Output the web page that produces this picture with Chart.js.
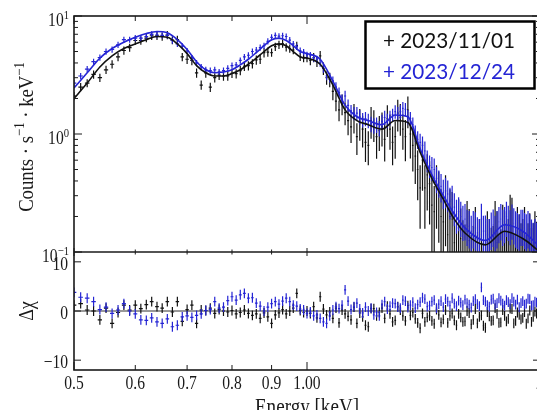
<!DOCTYPE html>
<html>
<head>
<meta charset="utf-8">
<script src="https://cdn.jsdelivr.net/npm/chart.js@4.4.1/dist/chart.umd.min.js"></script>
<style>
  html, body { margin: 0; padding: 0; background: #fff; overflow: hidden; }
  #wrap { width: 545px; height: 410px; }
</style>
</head>
<body>
<div id="wrap"><canvas id="spec" width="545" height="410"></canvas></div>
<script>
// energy bins [keV], shared by both observations
const energy = [
  0.50,0.51,0.52,0.53,0.54,0.55,0.56,0.57,0.58,0.59,
  0.60,0.61,0.62,0.63,0.64,0.65,0.66,0.67,0.68,0.69,
  0.70,0.71,0.72,0.73,0.74,0.75,0.76,0.77,0.78,0.79,
  0.80,0.81,0.82,0.83,0.84,0.85,0.86,0.87,0.88,0.89,
  0.90,0.91,0.92,0.93,0.94,0.95,0.96,0.97,0.98,0.99,
  1.00,1.01,1.02,1.03,1.04,1.05,1.06,1.07,1.08,1.09,
  1.10,1.11,1.12,1.13,1.14,1.15,1.16,1.17,1.18,1.19,
  1.20,1.21,1.22,1.23,1.24,1.25,1.26,1.27,1.28,1.29,
  1.30,1.31,1.32,1.33,1.34,1.35,1.36,1.37,1.38,1.39,
  1.40,1.41,1.42,1.43,1.44,1.45,1.46,1.47,1.48,1.49,
  1.50,1.51,1.52,1.53,1.54,1.55,1.56,1.57,1.58,1.59,
  1.60,1.61,1.62,1.63,1.64,1.65,1.66,1.67,1.68,1.69,
  1.70,1.71,1.72,1.73,1.74,1.75,1.76,1.77,1.78,1.79,
  1.80,1.81,1.82,1.83,1.84,1.85,1.86,1.87,1.88,1.89,
  1.90,1.91,1.92,1.93,1.94,1.95,1.96,1.97,1.98,1.99
];

// 2023/11/01 counts s^-1 keV^-1 and relative error
const countsNov = [
  2.1,2.5,2.7,3.2,3.0,3.5,3.9,4.5,5.1,5.4,
  6.2,6.2,6.5,6.8,6.8,6.7,6.9,6.25,6.3,4.5,
  4.3,4.2,3.3,2.6,3.3,2.5,3.0,3.15,3.1,3.1,
  3.27,3.25,3.45,3.75,3.8,3.95,4.25,4.3,4.9,4.95,
  4.9,5.5,5.7,5.85,5.45,5.3,5.15,5.6,4.52,4.4,
  4.4,4.2,4.45,4.1,4.6,3.6,3.0,2.9,2.3,1.9,
  1.6,1.8,1.52,1.3,1.15,1.4,0.95,1.25,1.1,0.85,
  0.8,1.3,1.22,0.95,1.07,1.15,0.9,1.35,1.1,0.85,
  0.95,1.5,1.38,1.1,0.95,1.6,1.0,0.8,0.65,0.5,
  0.35,0.6,0.35,0.45,0.38,0.25,0.22,0.35,0.3,0.2,
  0.18,0.28,0.14,0.2,0.19,0.12,0.09,0.16,0.13,0.1,
  0.09,0.15,0.125,0.07,0.085,0.13,0.07,0.1,0.1,0.06,
  0.05,0.12,0.1,0.08,0.085,0.15,0.12,0.07,0.08,0.14,
  0.12,0.09,0.1,0.17,0.16,0.07,0.08,0.13,0.11,0.09,
  0.1,0.13,0.07,0.09,0.115,0.08,0.09,0.12,0.095,0.07
];
const errNov = [
  0.08,0.08,0.08,0.08,0.08,0.08,0.08,0.08,0.08,0.08,
  0.08,0.08,0.08,0.08,0.08,0.08,0.08,0.08,0.08,0.08,
  0.09,0.09,0.09,0.09,0.09,0.09,0.09,0.09,0.09,0.09,
  0.09,0.09,0.09,0.09,0.09,0.09,0.09,0.09,0.09,0.09,
  0.08,0.08,0.08,0.08,0.08,0.08,0.08,0.08,0.08,0.08,
  0.08,0.09,0.09,0.1,0.1,0.12,0.13,0.14,0.16,0.18,
  0.2,0.2,0.22,0.25,0.27,0.28,0.3,0.3,0.3,0.32,
  0.32,0.3,0.3,0.35,0.33,0.32,0.35,0.3,0.33,0.36,
  0.35,0.3,0.3,0.33,0.38,0.3,0.38,0.4,0.42,0.45,
  0.55,0.45,0.55,0.5,0.55,0.65,0.65,0.55,0.6,0.7,
  0.7,0.6,0.75,0.7,0.7,0.8,0.9,0.75,0.8,0.85,
  0.9,0.8,0.85,1,0.95,0.85,1,0.9,0.9,1,
  1,0.85,0.9,1,0.95,0.8,0.85,1,0.95,0.8,
  0.85,0.95,0.9,0.8,0.8,1,0.95,0.85,0.9,0.95,
  0.9,0.85,1,0.95,0.85,1,0.95,0.85,0.9,1
];

// 2023/12/24
const countsDec = [
  2.7,3.1,3.55,4.1,4.45,5.0,5.2,5.7,6.3,6.3,
  6.5,6.5,6.7,7.0,6.9,6.85,6.85,6.2,5.8,5.55,
  5.05,4.4,4.0,3.7,3.5,3.45,3.5,3.35,3.45,3.6,
  3.8,3.85,4.2,4.5,4.65,5.0,5.15,5.4,5.6,6.1,
  6.6,6.85,6.75,6.8,6.7,6.25,5.8,5.5,5.1,4.95,
  4.7,4.65,4.4,4.3,4.0,3.6,3.1,3.0,2.82,2.5,
  2.25,1.95,2.1,1.75,1.57,1.5,1.5,1.4,1.32,1.35,
  1.3,1.22,1.18,1.2,1.12,1.28,1.38,1.3,1.38,1.45,
  1.55,1.5,1.55,1.65,1.62,1.4,1.35,1.2,1.02,0.9,
  0.85,0.8,0.72,0.6,0.54,0.52,0.5,0.42,0.39,0.36,
  0.32,0.33,0.31,0.27,0.28,0.24,0.21,0.22,0.2,0.185,
  0.19,0.17,0.165,0.15,0.165,0.16,0.145,0.14,0.19,0.15,
  0.15,0.14,0.14,0.16,0.17,0.15,0.165,0.18,0.19,0.17,
  0.18,0.2,0.185,0.17,0.19,0.175,0.165,0.16,0.155,0.17,
  0.17,0.16,0.155,0.165,0.155,0.14,0.13,0.14,0.13,0.125
];
const errDec = [
  0.06,0.06,0.06,0.06,0.06,0.06,0.06,0.06,0.06,0.06,
  0.06,0.06,0.06,0.06,0.06,0.06,0.06,0.06,0.06,0.06,
  0.06,0.06,0.06,0.06,0.06,0.06,0.06,0.06,0.06,0.06,
  0.06,0.06,0.06,0.06,0.06,0.06,0.06,0.06,0.06,0.06,
  0.06,0.06,0.06,0.06,0.06,0.06,0.06,0.06,0.06,0.06,
  0.06,0.065,0.07,0.07,0.07,0.08,0.08,0.09,0.09,0.1,
  0.1,0.11,0.11,0.12,0.12,0.13,0.13,0.14,0.14,0.14,
  0.14,0.15,0.15,0.15,0.15,0.14,0.14,0.14,0.14,0.13,
  0.13,0.13,0.13,0.13,0.13,0.14,0.14,0.15,0.16,0.17,
  0.18,0.19,0.2,0.21,0.22,0.23,0.24,0.25,0.26,0.27,
  0.28,0.29,0.3,0.3,0.3,0.31,0.32,0.32,0.33,0.33,
  0.34,0.34,0.35,0.35,0.35,0.36,0.36,0.36,0.35,0.35,
  0.36,0.36,0.36,0.35,0.35,0.35,0.35,0.34,0.34,0.34,
  0.34,0.33,0.33,0.33,0.33,0.34,0.34,0.34,0.34,0.34,
  0.34,0.34,0.35,0.35,0.35,0.35,0.36,0.36,0.36,0.36
];

// delta chi residuals
const residNov = [
  1.2,1.5,0.2,0.0,-1.8,0.6,-2.5,-0.3,1.2,0.2,
  1.2,0.5,1.3,1.9,0.9,0.6,1.9,-0.2,1.9,-2.1,
  0.3,1.2,-2.5,0.2,0.1,0.6,-0.5,0.3,0.0,-0.2,
  0.1,-0.6,-0.3,0.2,-0.5,-0.9,-0.6,-1.5,-0.4,-1.2,
  -2.5,-0.8,-0.4,0.3,-0.6,0.0,0.6,3.6,0.1,-0.3,
  0.0,-0.5,0.9,-1.4,2.9,0.4,-0.8,-0.2,-1.5,0.6,
  -2.4,0.2,-0.6,-1.1,-1.8,0.8,-2.5,-0.4,-1.2,-2.9,
  -3.2,0.5,0.5,-1.0,-0.3,0.6,-1.5,1.0,-0.6,-2.2,
  -1.9,0.9,0.2,-1.0,-2.0,1.1,-0.9,-0.3,-1.6,-2.4,
  -3.5,-0.5,-2.2,-1.3,-1.0,-2.0,-2.6,0.3,-0.8,-2.3,
  -1.7,0.2,-2.4,-1.0,-0.5,-1.9,-2.9,-0.6,-1.3,-2.2,
  -2.1,0.0,-0.4,-2.7,-1.8,0.4,-2.5,-1.2,-0.9,-3.0,
  -3.4,-0.2,-1.1,-2.0,-1.9,0.6,-0.6,-2.4,-2.3,0.2,
  -1.0,-2.1,-1.6,0.5,0.4,-2.5,-2.0,-0.3,-0.8,-1.7,
  -1.4,-0.2,-2.6,-1.5,0.1,-2.2,-1.2,-0.1,-0.5,-2.0
];
const residDec = [
  3.8,2.8,2.6,1.9,0.3,0.8,-0.5,0.2,1.5,0.0,
  -0.6,-1.8,-1.9,-1.4,-2.2,-2.5,-1.6,-3.2,-2.9,-1.2,
  -1.0,-1.3,-0.9,-0.6,0.1,0.3,1.9,0.6,0.8,2.1,
  2.9,2.2,3.3,3.6,2.6,2.7,1.6,1.0,0.0,0.8,
  1.5,1.9,1.4,2.0,2.6,1.9,1.2,1.0,0.4,0.2,
  -0.5,-0.2,-1.0,-0.8,-1.5,-2.2,-2.5,-1.0,0.2,0.9,
  0.5,1.2,4.3,2.0,0.3,0.9,1.6,0.4,-0.4,0.8,
  0.0,0.6,-0.8,-0.3,-1.0,1.3,1.9,0.4,1.0,1.6,
  1.5,0.8,0.6,2.2,2.0,0.7,1.2,1.8,0.6,1.3,
  1.8,2.7,2.4,0.9,1.1,1.9,2.2,0.6,1.4,2.0,
  0.8,2.4,1.9,1.1,2.6,1.5,1.0,2.1,1.7,1.2,
  2.3,1.6,1.3,0.7,2.0,2.4,1.4,1.0,4.8,2.2,
  1.9,1.2,0.9,2.3,2.5,1.3,1.6,2.6,2.1,1.5,
  1.1,2.2,1.8,1.4,2.6,1.9,1.3,2.3,0.8,1.6,
  2.0,1.3,1.5,2.5,2.4,1.1,1.2,1.9,1.7,1.0
];

// best-fit model curves
const modelEnergy = [0.50,0.52,0.54,0.56,0.58,0.60,0.62,0.64,0.66,0.68,0.70,0.72,0.74,0.76,0.78,0.80,0.82,0.84,0.86,0.88,0.90,0.92,0.94,0.96,0.98,1.00,1.04,1.08,1.12,1.16,1.20,1.25,1.30,1.35,1.40,1.45,1.50,1.55,1.60,1.70,1.80,1.90,2.00];
const modelNov = [2.0,2.7,3.7,4.6,5.3,5.8,6.3,6.7,6.6,5.8,4.8,3.8,3.3,3.1,3.1,3.25,3.5,3.9,4.4,5.0,5.6,5.8,5.6,5.0,4.5,4.4,3.9,2.6,1.6,1.3,1.2,1.1,1.3,1.25,0.7,0.42,0.28,0.19,0.145,0.115,0.15,0.13,0.10];
const modelDec = [2.45,3.3,4.4,5.3,6.0,6.6,7.1,7.4,7.2,6.3,5.2,4.1,3.5,3.3,3.35,3.5,3.85,4.3,4.9,5.6,6.3,6.5,6.2,5.6,5.0,4.8,4.3,2.8,1.75,1.4,1.3,1.2,1.45,1.4,0.75,0.45,0.3,0.21,0.16,0.125,0.17,0.15,0.11];

// axes
const xTicks = [0.5, 0.6, 0.7, 0.8, 0.9, 1.0, 2.0];
const xTickLabels = ['0.5', '0.6', '0.7', '0.8', '0.9', '1.00', '2'];
const xMajorTicks = [0.5, 1.0, 2.0];
const countTicks = [0.1, 1, 10];
const countExps = ['\u22121', '0', '1'];
const residTicks = [-10, 0, 10];
const residLabels = ['\u221210', '0', '10'];
const legendDates = ['2023/11/01', '2023/12/24'];

const BLUE = '#2424d4';
const BLACK = '#111111';
const SERIF = '"Liberation Serif", "DejaVu Serif", serif';

function binEdges(i) {
  const e = energy[i];
  const prev = i > 0 ? energy[i - 1] : 2 * e - energy[i + 1];
  const next = i < energy.length - 1 ? energy[i + 1] : 2 * e - energy[i - 1];
  return [e - (e - prev) * 0.35, e + (next - e) * 0.35];
}

function drawCounts(ctx, xs, ys, vals, rel, color) {
  ctx.strokeStyle = color;
  ctx.lineWidth = 1.2;
  ctx.beginPath();
  energy.forEach((e, i) => {
    const [lo, hi] = binEdges(i);
    const px = xs.getPixelForValue(e);
    const py = ys.getPixelForValue(vals[i]);
    const low = vals[i] * (1 - rel[i]);
    ctx.moveTo(xs.getPixelForValue(lo), py);
    ctx.lineTo(xs.getPixelForValue(hi), py);
    ctx.moveTo(px, ys.getPixelForValue(vals[i] * (1 + rel[i])));
    ctx.lineTo(px, low > 0 ? ys.getPixelForValue(low) : ys.bottom);
  });
  ctx.stroke();
}

function drawResid(ctx, xs, ys, vals, color) {
  ctx.strokeStyle = color;
  ctx.lineWidth = 1.2;
  ctx.beginPath();
  energy.forEach((e, i) => {
    const [lo, hi] = binEdges(i);
    const px = xs.getPixelForValue(e);
    const py = ys.getPixelForValue(vals[i]);
    ctx.moveTo(xs.getPixelForValue(lo), py);
    ctx.lineTo(xs.getPixelForValue(hi), py);
    ctx.moveTo(px, ys.getPixelForValue(vals[i] + 1));
    ctx.lineTo(px, ys.getPixelForValue(vals[i] - 1));
  });
  ctx.stroke();
}

// narrow serif text, squeezed along the writing direction
function narrowText(ctx, str, x, y, align, size, sx) {
  ctx.save();
  ctx.font = size + 'px ' + SERIF;
  ctx.translate(x, y);
  ctx.scale(sx, 1);
  ctx.textAlign = align;
  ctx.fillText(str, 0, 0);
  ctx.restore();
}

function drawAxes(chart) {
  const {ctx, chartArea: a, scales: {x, y, y2}} = chart;
  const split = y.getPixelForValue(0.1);
  ctx.save();
  ctx.strokeStyle = '#1a1a1a';
  ctx.lineWidth = 1.6;
  ctx.strokeRect(a.left, a.top, a.right - a.left, a.bottom - a.top);
  ctx.beginPath();
  ctx.moveTo(a.left, split);
  ctx.lineTo(a.right, split);
  ctx.stroke();

  ctx.lineWidth = 1;
  ctx.beginPath();
  xTicks.forEach(t => {
    const px = x.getPixelForValue(t);
    const len = xMajorTicks.includes(t) ? 8 : 5;
    [[a.top, 1], [split, -1], [split, 1], [a.bottom, -1]].forEach(([yy, dir]) => {
      ctx.moveTo(px, yy);
      ctx.lineTo(px, yy + dir * (yy === split ? len * 0.5 : len));
    });
  });
  // log ticks of the counts panel, both sides
  for (let dec = 0.1; dec < 10; dec *= 10) {
    for (let m = 2; m <= 9; m++) {
      const py = y.getPixelForValue(m * dec);
      ctx.moveTo(a.left, py); ctx.lineTo(a.left + 4, py);
      ctx.moveTo(a.right, py); ctx.lineTo(a.right - 4, py);
    }
  }
  countTicks.forEach(t => {
    const py = y.getPixelForValue(t);
    ctx.moveTo(a.left, py); ctx.lineTo(a.left + 8, py);
    ctx.moveTo(a.right, py); ctx.lineTo(a.right - 8, py);
  });
  residTicks.forEach(t => {
    const py = y2.getPixelForValue(t);
    ctx.moveTo(a.left, py); ctx.lineTo(a.left + 7, py);
    ctx.moveTo(a.right, py); ctx.lineTo(a.right - 7, py);
  });
  ctx.stroke();

  ctx.fillStyle = '#1a1a1a';
  xTicks.forEach((t, i) => {
    narrowText(ctx, xTickLabels[i], x.getPixelForValue(t), 389, 'center', 19, 0.82);
  });
  countTicks.forEach((t, i) => {
    const py = y.getPixelForValue(t);
    ctx.font = '13px ' + SERIF;
    const ew = ctx.measureText(countExps[i]).width * 0.82;
    narrowText(ctx, countExps[i], 69 - ew, py + 3, 'left', 13, 0.82);
    narrowText(ctx, '10', 69 - ew, py + 10, 'right', 19, 0.82);
  });
  residTicks.forEach((t, i) => {
    narrowText(ctx, residLabels[i], 68, y2.getPixelForValue(t) + 8, 'right', 19, 0.82);
  });

  // axis titles
  ctx.save();
  ctx.translate(33, 137);
  ctx.rotate(-Math.PI / 2);
  ctx.scale(0.85, 1);
  const parts = [['Counts \u00b7 s', 22, 0], ['\u22121', 15, -9], [' \u00b7 keV', 22, 0], ['\u22121', 15, -9]];
  let total = 0;
  parts.forEach(p => { ctx.font = p[1] + 'px ' + SERIF; total += ctx.measureText(p[0]).width; });
  let cx = -total / 2;
  parts.forEach(p => {
    ctx.font = p[1] + 'px ' + SERIF;
    ctx.fillText(p[0], cx, p[2]);
    cx += ctx.measureText(p[0]).width;
  });
  ctx.restore();

  ctx.save();
  ctx.translate(33, 311);
  ctx.rotate(-Math.PI / 2);
  ctx.scale(0.9, 1);
  ctx.font = '20px ' + SERIF;
  ctx.textAlign = 'center';
  ctx.fillText('\u0394\u03c7', 0, 0);
  ctx.restore();

  narrowText(ctx, 'Energy [keV]', 307, 414, 'center', 23, 0.83);
  ctx.restore();
}

function drawLegend(ctx) {
  const colors = [BLACK, BLUE];
  ctx.save();
  ctx.lineWidth = 2.5;
  ctx.strokeStyle = '#000';
  ctx.fillStyle = '#fff';
  ctx.fillRect(365, 21, 170, 68);
  ctx.strokeRect(365.5, 21.5, 169, 67);
  ctx.font = '22px Lato, "Liberation Sans", sans-serif';
  legendDates.forEach((d, i) => {
    const txt = '+ ' + d;
    const w = ctx.measureText(txt).width;
    ctx.fillStyle = colors[i];
    ctx.save();
    ctx.translate(383, 48 + i * 31);
    ctx.scale(132 / w, 1);
    ctx.fillText(txt, 0, 0);
    ctx.restore();
  });
  ctx.restore();
}

const spectrumPlugin = {
  id: 'spectrum',
  beforeDatasetsDraw(chart) {
    const {ctx, chartArea: a, scales: {x, y, y2}} = chart;
    const split = y.getPixelForValue(0.1);
    ctx.save();
    ctx.beginPath();
    ctx.rect(a.left, a.top, a.right - a.left, split - a.top);
    ctx.clip();
    drawCounts(ctx, x, y, countsNov, errNov, BLACK);
    drawCounts(ctx, x, y, countsDec, errDec, BLUE);
    ctx.restore();

    ctx.save();
    ctx.beginPath();
    ctx.rect(a.left, split, a.right - a.left, a.bottom - split);
    ctx.clip();
    const y0 = y2.getPixelForValue(0);
    ctx.strokeStyle = '#333';
    ctx.lineWidth = 1;
    ctx.beginPath();
    ctx.moveTo(a.left, y0);
    ctx.lineTo(a.right, y0);
    ctx.stroke();
    drawResid(ctx, x, y2, residNov, BLACK);
    drawResid(ctx, x, y2, residDec, BLUE);
    ctx.restore();
  },
  afterDraw(chart) {
    drawAxes(chart);
    drawLegend(chart.ctx);
  }
};

const modelLine = (vals, color) => ({
  data: modelEnergy.map((e, i) => ({x: e, y: vals[i]})),
  borderColor: color,
  borderWidth: 1.6,
  pointRadius: 0,
  cubicInterpolationMode: 'monotone',
  yAxisID: 'y'
});

new Chart(document.getElementById('spec'), {
  type: 'line',
  data: { datasets: [modelLine(modelNov, BLACK), modelLine(modelDec, BLUE)] },
  options: {
    responsive: false,
    animation: false,
    events: [],
    layout: { padding: { left: 74, right: 5, top: 16, bottom: 40 } },
    plugins: { legend: { display: false }, tooltip: { enabled: false } },
    scales: {
      x: { type: 'logarithmic', min: 0.5, max: 2.0, display: false },
      // counts panel: 10^-1..10^1 fills the upper two thirds
      y: { type: 'logarithmic', min: 0.01, max: 10, display: false },
      // residual panel: -12..12 fills the lower third
      y2: { type: 'linear', min: -12, max: 60, display: false }
    }
  },
  plugins: [spectrumPlugin]
});
</script>
</body>
</html>
